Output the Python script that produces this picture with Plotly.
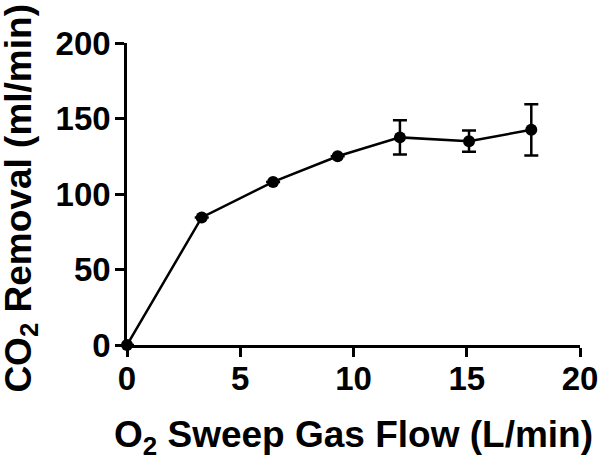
import plotly.graph_objects as go

flow = [0, 3.3, 6.45, 9.3, 12.05, 15.1, 17.85]
co2_removal = [0, 84.5, 108, 125, 137.5, 135, 142.5]
err = [0, 0, 0, 0, 11.3, 7, 17]

x_title = "O<sub>2</sub> Sweep Gas Flow (L/min)"
y_title = "CO<sub>2</sub> Removal (ml/min)"

font = "Liberation Sans, Arial, sans-serif"

fig = go.Figure()
fig.add_trace(go.Scatter(
    x=flow, y=co2_removal,
    mode="lines+markers",
    line=dict(color="black", width=2.5),
    marker=dict(color="black", size=12),
    error_y=dict(type="data", array=err, visible=True, color="black",
                 thickness=2.5, width=7),
    cliponaxis=False,
    showlegend=False,
))

axis_common = dict(
    showline=True, linecolor="black", linewidth=2.5,
    ticks="outside", ticklen=9, tickwidth=2.5, tickcolor="black",
    showgrid=False, zeroline=False, automargin=False,
    tickfont=dict(family=font, size=33, color="black", weight="bold"),
)

fig.update_xaxes(range=[0, 20], dtick=5, ticklabelstandoff=-6, **axis_common)
fig.update_yaxes(range=[0, 200], dtick=50, ticklabelstandoff=-2, **axis_common)

title_font = dict(family=font, size=37, color="black", weight="bold")
fig.add_annotation(text=x_title, xref="paper", yref="paper", x=0.5, y=-0.305,
                   showarrow=False, font=title_font, xanchor="center", yanchor="middle")
fig.add_annotation(text=y_title, xref="paper", yref="paper", x=-0.236, y=0.485,
                   showarrow=False, font=title_font, textangle=-90,
                   xanchor="center", yanchor="middle")

fig.update_layout(
    width=600, height=456,
    margin=dict(l=127, r=20, t=43, b=111),
    plot_bgcolor="white", paper_bgcolor="white",
)

# drop the default 8px body margin so the figure fills the window exactly
fig.write_html("out.html", config={"displayModeBar": False},
               post_script="document.body.style.margin='0';")
